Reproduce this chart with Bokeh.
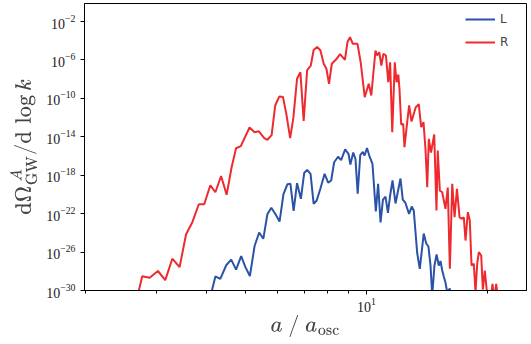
from bokeh.plotting import figure
from bokeh.models import Range1d, FixedTicker, LogTickFormatter, Legend, LegendItem
from bokeh.embed import file_html
from bokeh.resources import INLINE
import numpy as np

# scale factor a / a_osc for the right-handed (R) spectrum
red_a = [2.68, 2.77, 2.89, 3.03, 3.16, 3.29, 3.43, 3.56, 3.69, 3.83, 3.95, 4.09, 4.21, 4.35, 4.49,
         4.62, 4.74, 4.87, 5.12, 5.27, 5.40, 5.57, 5.67, 5.81, 5.93, 6.07, 6.20, 6.32, 6.46, 6.58,
         6.72, 6.85, 6.98, 7.12, 7.27, 7.39, 7.54, 7.68, 7.83, 7.95, 8.07, 8.20, 8.40, 8.60, 8.84,
         8.97, 9.10, 9.25, 9.50, 9.68, 9.90, 10.13, 10.28, 10.53, 10.63, 10.76, 10.89, 11.02, 11.18,
         11.33, 11.45, 11.59, 11.76, 11.88, 12.00, 12.08, 12.20, 12.34, 12.43, 12.63, 12.77, 12.94,
         13.26, 13.49, 13.68, 13.86, 14.02, 14.16, 14.29, 14.47, 14.74, 14.93, 15.04, 15.22, 15.43,
         15.72, 15.93, 16.12, 16.34, 16.56, 16.79, 17.04, 17.23, 17.46, 17.63, 17.87, 18.07, 18.25,
         18.49, 18.67, 18.85, 19.03, 19.29, 19.47, 19.69, 19.97, 20.35, 20.58, 20.76, 21.02, 21.26,
         21.54]
# log10 of dOmega_GW^A / dlog k for R
red_log10 = [-31.04, -28.51, -28.68, -27.97, -28.92, -26.69, -27.57, -24.14, -22.89, -21.02, -21.02,
             -19.05, -19.77, -18.08, -20.04, -17.17, -15.19, -14.97, -13.03, -13.52, -13.43, -14.13,
             -14.31, -13.83, -10.74, -9.81, -9.86, -11.61, -14.13, -12.04, -7.96, -7.28, -12.36,
             -7.05, -6.58, -4.97, -4.65, -4.99, -6.40, -6.92, -8.48, -6.40, -5.96, -5.40, -5.99,
             -4.13, -3.63, -4.32, -4.32, -6.32, -9.88, -8.48, -9.70, -5.02, -5.54, -5.20, -6.58,
             -5.36, -5.54, -8.32, -6.24, -13.52, -6.24, -8.32, -7.52, -9.00, -12.72, -12.65, -15.08,
             -12.41, -10.74, -12.41, -10.92, -10.61, -13.00, -12.48, -15.25, -19.25, -14.21, -15.64,
             -13.76, -21.67, -15.43, -19.59, -19.77, -21.50, -19.28, -27.74, -18.89, -22.37, -19.41,
             -22.37, -22.54, -22.37, -24.80, -21.85, -22.71, -27.40, -27.22, -30.21, -27.22, -26.01,
             -26.36, -29.90, -27.92, -30.52, -31.04, -29.30, -31.04, -29.30, -31.04, -32.08]

# scale factor a / a_osc for the left-handed (L) spectrum
blue_a = [4.07, 4.21, 4.33, 4.48, 4.61, 4.74, 4.88, 5.00, 5.13, 5.27, 5.41, 5.54, 5.67, 5.80, 5.94,
          6.08, 6.22, 6.36, 6.47, 6.59, 6.72, 6.87, 7.00, 7.12, 7.26, 7.39, 7.52, 7.68, 7.87, 8.03,
          8.17, 8.31, 8.50, 8.65, 8.85, 9.02, 9.12, 9.27, 9.39, 9.51, 9.65, 9.79, 9.89, 10.03,
          10.16, 10.35, 10.55, 10.69, 10.84, 10.99, 11.15, 11.31, 11.45, 11.61, 11.81, 12.15,
          12.31, 12.50, 12.76, 12.96, 13.11, 13.37, 13.57, 13.88, 14.08, 14.26, 14.43, 14.57,
          14.76, 14.94, 15.13, 15.28, 15.43, 15.57, 15.72, 15.88, 16.11, 16.27]
# log10 of dOmega_GW^A / dlog k for L
blue_log10 = [-31.04, -28.54, -28.80, -27.37, -26.79, -27.83, -26.43, -27.57, -28.49, -25.37, -23.96,
              -24.62, -22.06, -21.39, -22.06, -22.82, -19.93, -18.94, -18.89, -21.72, -18.83, -20.45,
              -17.77, -17.44, -17.85, -20.98, -20.63, -19.41, -17.85, -18.78, -18.55, -16.65, -16.08,
              -16.42, -15.32, -15.77, -16.88, -15.64, -16.31, -19.93, -15.90, -15.58, -15.95, -15.17,
              -15.95, -16.83, -21.78, -18.89, -22.92, -20.53, -20.22, -21.93, -20.11, -18.55, -20.94,
              -18.34, -20.53, -20.89, -22.02, -21.26, -21.67, -26.10, -27.74, -24.07, -25.11, -25.42,
              -27.40, -30.52, -27.40, -26.25, -27.40, -26.93, -27.92, -28.54, -29.17, -30.21, -29.79,
              -31.04]

legend_labels = ["L", "R"]
y_ticks = [1e-30, 1e-26, 1e-22, 1e-18, 1e-14, 1e-10, 1e-6, 1e-2]
x_major = [10]
x_minor = [2, 3, 4, 5, 6, 7, 8, 9, 20]

blue = "#2a53a7"
red = "#ee2a2e"

p = figure(width=531, height=344, x_axis_type="log", y_axis_type="log",
           x_range=Range1d(1.99, 25.0), y_range=Range1d(1e-30, 0.75),
           output_backend="svg", toolbar_location=None)
p.min_border_left = 84
p.min_border_right = 5
p.min_border_top = 3
p.min_border_bottom = 54
p.background_fill_color = "white"
p.border_fill_color = "white"
p.grid.visible = False
p.outline_line_color = "black"
p.outline_line_width = 1

lb = p.line(blue_a, 10.0 ** np.array(blue_log10), line_color=blue, line_width=2)
lr = p.line(red_a, 10.0 ** np.array(red_log10), line_color=red, line_width=2)

serif = "Liberation Serif"
for ax in (p.xaxis[0], p.yaxis[0]):
    ax.formatter = LogTickFormatter()
    ax.axis_line_color = "black"
    ax.major_tick_line_color = "black"
    ax.minor_tick_line_color = "black"
    ax.major_tick_in = 0
    ax.minor_tick_in = 0
    ax.major_tick_out = 4
    ax.minor_tick_out = 3
    ax.major_label_text_font = serif
    ax.major_label_text_font_size = "14px"
    ax.major_label_text_color = "#222222"
    ax.axis_label_text_font = serif
    ax.axis_label_text_font_size = "20px"
    ax.axis_label_text_font_style = "normal"

p.xaxis[0].ticker = FixedTicker(ticks=x_major, minor_ticks=x_minor)
p.yaxis[0].ticker = FixedTicker(ticks=y_ticks, minor_ticks=[])
p.xaxis[0].axis_label = r"$$a\ /\ a_{\rm osc}$$"
p.yaxis[0].axis_label = r"$$\mathrm{d}\Omega^{\,A}_{\rm GW}/\mathrm{d}\,\log k$$"
p.xaxis[0].major_label_standoff = 3
p.xaxis[0].axis_label_standoff = 0
p.yaxis[0].axis_label_standoff = 6

legend = Legend(items=[LegendItem(label=legend_labels[0], renderers=[lb]),
                       LegendItem(label=legend_labels[1], renderers=[lr])],
                location="top_right", border_line_color=None, background_fill_alpha=0,
                label_text_font="DejaVu Sans", label_text_font_size="12px",
                glyph_width=30, spacing=3, padding=6, margin=6)
p.add_layout(legend)

open("out.html", "w").write(file_html(p, INLINE))
